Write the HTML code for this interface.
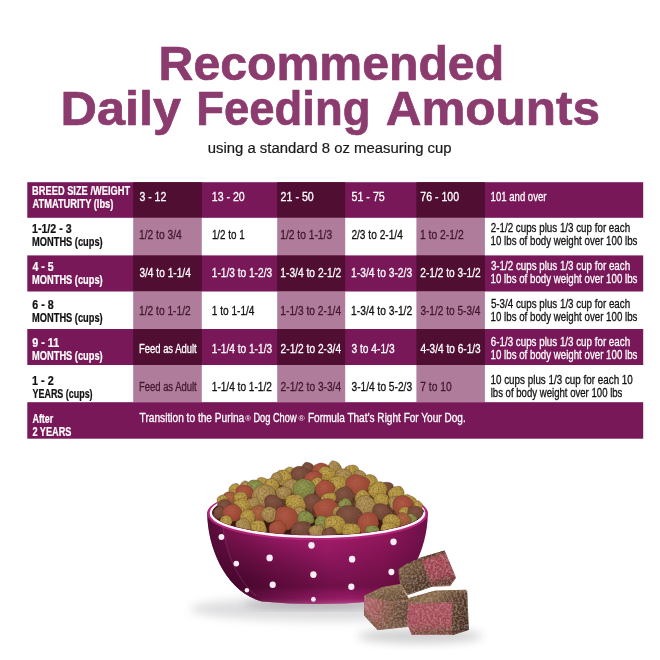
<!DOCTYPE html>
<html lang="en"><head><meta charset="utf-8"><title>Recommended Daily Feeding Amounts</title>
<style>html,body{margin:0;padding:0;background:#fff;}body{width:660px;height:660px;overflow:hidden;}svg{display:block;}text{font-family:"Liberation Sans",sans-serif;}</style>
</head><body>
<svg width="660" height="660" viewBox="0 0 660 660">
<rect width="660" height="660" fill="#ffffff"/>
<text x="158.6" y="80.0" font-size="48.4" fill="#8b3b6e" font-weight="700" textLength="345.5" lengthAdjust="spacingAndGlyphs" stroke="#8b3b6e" stroke-width="0.7">Recommended</text>
<text x="60.5" y="124.8" font-size="48.4" fill="#8b3b6e" font-weight="700" textLength="120.5" lengthAdjust="spacingAndGlyphs" stroke="#8b3b6e" stroke-width="0.7">Daily</text>
<text x="196.3" y="124.8" font-size="48.4" fill="#8b3b6e" font-weight="700" textLength="174.1" lengthAdjust="spacingAndGlyphs" stroke="#8b3b6e" stroke-width="0.7">Feeding</text>
<text x="385.7" y="124.8" font-size="48.4" fill="#8b3b6e" font-weight="700" textLength="214.2" lengthAdjust="spacingAndGlyphs" stroke="#8b3b6e" stroke-width="0.7">Amounts</text>
<text x="207.8" y="153.2" font-size="14" fill="#1a1a1a" textLength="243.8" lengthAdjust="spacingAndGlyphs" stroke="#1a1a1a" stroke-width="0.2">using a standard 8 oz measuring cup</text>
<rect x="27.3" y="182.2" width="615.9" height="35.6" fill="#781858"/>
<rect x="133.2" y="182.2" width="68.6" height="35.6" fill="#500e33"/>
<rect x="277.2" y="182.2" width="68.0" height="35.6" fill="#500e33"/>
<rect x="416.4" y="182.2" width="68.5" height="35.6" fill="#500e33"/>
<rect x="133.2" y="217.8" width="68.6" height="37.6" fill="#b07c9b"/>
<rect x="277.2" y="217.8" width="68.0" height="37.6" fill="#b07c9b"/>
<rect x="416.4" y="217.8" width="68.5" height="37.6" fill="#b07c9b"/>
<rect x="27.3" y="255.4" width="615.9" height="36.1" fill="#781858"/>
<rect x="133.2" y="255.4" width="68.6" height="36.1" fill="#500e33"/>
<rect x="277.2" y="255.4" width="68.0" height="36.1" fill="#500e33"/>
<rect x="416.4" y="255.4" width="68.5" height="36.1" fill="#500e33"/>
<rect x="133.2" y="291.5" width="68.6" height="37.5" fill="#b07c9b"/>
<rect x="277.2" y="291.5" width="68.0" height="37.5" fill="#b07c9b"/>
<rect x="416.4" y="291.5" width="68.5" height="37.5" fill="#b07c9b"/>
<rect x="27.3" y="329.0" width="615.9" height="36.0" fill="#781858"/>
<rect x="133.2" y="329.0" width="68.6" height="36.0" fill="#500e33"/>
<rect x="277.2" y="329.0" width="68.0" height="36.0" fill="#500e33"/>
<rect x="416.4" y="329.0" width="68.5" height="36.0" fill="#500e33"/>
<rect x="133.2" y="365.0" width="68.6" height="37.2" fill="#b07c9b"/>
<rect x="277.2" y="365.0" width="68.0" height="37.2" fill="#b07c9b"/>
<rect x="416.4" y="365.0" width="68.5" height="37.2" fill="#b07c9b"/>
<rect x="27.3" y="402.2" width="615.9" height="36.5" fill="#781858"/>
<text x="32.1" y="194.8" font-size="11.9" fill="#fff" font-weight="700" textLength="98.0" lengthAdjust="spacingAndGlyphs" stroke="#fff" stroke-width="0.22">BREED SIZE /WEIGHT</text>
<text x="32.5" y="207.7" font-size="11.9" fill="#fff" font-weight="700" textLength="80.8" lengthAdjust="spacingAndGlyphs" stroke="#fff" stroke-width="0.22">ATMATURITY (lbs)</text>
<text x="32.0" y="232.9" font-size="11.9" fill="#111" font-weight="700" textLength="39.6" lengthAdjust="spacingAndGlyphs" stroke="#111" stroke-width="0.22">1-1/2 - 3</text>
<text x="32.1" y="245.8" font-size="11.9" fill="#111" font-weight="700" textLength="70.6" lengthAdjust="spacingAndGlyphs" stroke="#111" stroke-width="0.22">MONTHS (cups)</text>
<text x="32.5" y="270.9" font-size="11.9" fill="#fff" font-weight="700" textLength="21.1" lengthAdjust="spacingAndGlyphs" stroke="#fff" stroke-width="0.22">4 - 5</text>
<text x="32.1" y="283.8" font-size="11.9" fill="#fff" font-weight="700" textLength="70.6" lengthAdjust="spacingAndGlyphs" stroke="#fff" stroke-width="0.22">MONTHS (cups)</text>
<text x="32.3" y="308.9" font-size="11.9" fill="#111" font-weight="700" textLength="21.3" lengthAdjust="spacingAndGlyphs" stroke="#111" stroke-width="0.22">6 - 8</text>
<text x="32.1" y="321.8" font-size="11.9" fill="#111" font-weight="700" textLength="70.6" lengthAdjust="spacingAndGlyphs" stroke="#111" stroke-width="0.22">MONTHS (cups)</text>
<text x="32.3" y="347.0" font-size="11.9" fill="#fff" font-weight="700" textLength="26.8" lengthAdjust="spacingAndGlyphs" stroke="#fff" stroke-width="0.22">9 - 11</text>
<text x="32.1" y="359.9" font-size="11.9" fill="#fff" font-weight="700" textLength="70.6" lengthAdjust="spacingAndGlyphs" stroke="#fff" stroke-width="0.22">MONTHS (cups)</text>
<text x="32.0" y="385.1" font-size="11.9" fill="#111" font-weight="700" textLength="21.7" lengthAdjust="spacingAndGlyphs" stroke="#111" stroke-width="0.22">1 - 2</text>
<text x="32.5" y="397.9" font-size="11.9" fill="#111" font-weight="700" textLength="60.1" lengthAdjust="spacingAndGlyphs" stroke="#111" stroke-width="0.22">YEARS (cups)</text>
<text x="32.5" y="423.1" font-size="11.9" fill="#fff" font-weight="700" textLength="20.7" lengthAdjust="spacingAndGlyphs" stroke="#fff" stroke-width="0.22">After</text>
<text x="32.4" y="436.0" font-size="11.9" fill="#fff" font-weight="700" textLength="39.0" lengthAdjust="spacingAndGlyphs" stroke="#fff" stroke-width="0.22">2 YEARS</text>
<text x="139.4" y="200.8" font-size="12.3" fill="#fff" textLength="26.9" lengthAdjust="spacingAndGlyphs" stroke="#fff" stroke-width="0.3">3 - 12</text>
<text x="211.8" y="200.8" font-size="12.3" fill="#fff" textLength="32.9" lengthAdjust="spacingAndGlyphs" stroke="#fff" stroke-width="0.3">13 - 20</text>
<text x="280.6" y="200.8" font-size="12.3" fill="#fff" textLength="33.2" lengthAdjust="spacingAndGlyphs" stroke="#fff" stroke-width="0.3">21 - 50</text>
<text x="351.5" y="200.8" font-size="12.3" fill="#fff" textLength="33.3" lengthAdjust="spacingAndGlyphs" stroke="#fff" stroke-width="0.3">51 - 75</text>
<text x="420.3" y="200.8" font-size="12.3" fill="#fff" textLength="38.7" lengthAdjust="spacingAndGlyphs" stroke="#fff" stroke-width="0.3">76 - 100</text>
<text x="490.6" y="200.8" font-size="12.3" fill="#fff" textLength="55.9" lengthAdjust="spacingAndGlyphs" stroke="#fff" stroke-width="0.3">101 and over</text>
<text x="139.0" y="238.9" font-size="12.3" fill="#42182f" textLength="42.8" lengthAdjust="spacingAndGlyphs" stroke="#42182f" stroke-width="0.3">1/2 to 3/4</text>
<text x="211.9" y="238.9" font-size="12.3" fill="#111" textLength="32.8" lengthAdjust="spacingAndGlyphs" stroke="#111" stroke-width="0.3">1/2 to 1</text>
<text x="280.3" y="238.9" font-size="12.3" fill="#42182f" textLength="51.8" lengthAdjust="spacingAndGlyphs" stroke="#42182f" stroke-width="0.3">1/2 to 1-1/3</text>
<text x="351.4" y="238.9" font-size="12.3" fill="#111" textLength="51.4" lengthAdjust="spacingAndGlyphs" stroke="#111" stroke-width="0.3">2/3 to 2-1/4</text>
<text x="420.0" y="238.9" font-size="12.3" fill="#42182f" textLength="43.7" lengthAdjust="spacingAndGlyphs" stroke="#42182f" stroke-width="0.3">1 to 2-1/2</text>
<text x="490.8" y="231.7" font-size="12.3" fill="#111" textLength="139.3" lengthAdjust="spacingAndGlyphs" stroke="#111" stroke-width="0.3">2-1/2 cups plus 1/3 cup for each</text>
<text x="490.6" y="244.5" font-size="12.3" fill="#111" textLength="146.8" lengthAdjust="spacingAndGlyphs" stroke="#111" stroke-width="0.3">10 lbs of body weight over 100 lbs</text>
<text x="139.4" y="276.9" font-size="12.3" fill="#fff" textLength="51.4" lengthAdjust="spacingAndGlyphs" stroke="#fff" stroke-width="0.3">3/4 to 1-1/4</text>
<text x="211.8" y="276.9" font-size="12.3" fill="#fff" textLength="60.3" lengthAdjust="spacingAndGlyphs" stroke="#fff" stroke-width="0.3">1-1/3 to 1-2/3</text>
<text x="280.3" y="276.9" font-size="12.3" fill="#fff" textLength="61.0" lengthAdjust="spacingAndGlyphs" stroke="#fff" stroke-width="0.3">1-3/4 to 2-1/2</text>
<text x="351.1" y="276.9" font-size="12.3" fill="#fff" textLength="61.0" lengthAdjust="spacingAndGlyphs" stroke="#fff" stroke-width="0.3">1-3/4 to 3-2/3</text>
<text x="420.3" y="276.9" font-size="12.3" fill="#fff" textLength="60.4" lengthAdjust="spacingAndGlyphs" stroke="#fff" stroke-width="0.3">2-1/2 to 3-1/2</text>
<text x="490.9" y="269.8" font-size="12.3" fill="#fff" textLength="139.2" lengthAdjust="spacingAndGlyphs" stroke="#fff" stroke-width="0.3">3-1/2 cups plus 1/3 cup for each</text>
<text x="490.6" y="282.6" font-size="12.3" fill="#fff" textLength="146.8" lengthAdjust="spacingAndGlyphs" stroke="#fff" stroke-width="0.3">10 lbs of body weight over 100 lbs</text>
<text x="139.0" y="314.9" font-size="12.3" fill="#42182f" textLength="51.7" lengthAdjust="spacingAndGlyphs" stroke="#42182f" stroke-width="0.3">1/2 to 1-1/2</text>
<text x="211.8" y="314.9" font-size="12.3" fill="#111" textLength="42.7" lengthAdjust="spacingAndGlyphs" stroke="#111" stroke-width="0.3">1 to 1-1/4</text>
<text x="280.3" y="314.9" font-size="12.3" fill="#42182f" textLength="60.8" lengthAdjust="spacingAndGlyphs" stroke="#42182f" stroke-width="0.3">1-1/3 to 2-1/4</text>
<text x="351.1" y="314.9" font-size="12.3" fill="#111" textLength="61.1" lengthAdjust="spacingAndGlyphs" stroke="#111" stroke-width="0.3">1-3/4 to 3-1/2</text>
<text x="420.4" y="314.9" font-size="12.3" fill="#42182f" textLength="60.1" lengthAdjust="spacingAndGlyphs" stroke="#42182f" stroke-width="0.3">3-1/2 to 5-3/4</text>
<text x="490.9" y="307.8" font-size="12.3" fill="#111" textLength="139.2" lengthAdjust="spacingAndGlyphs" stroke="#111" stroke-width="0.3">5-3/4 cups plus 1/3 cup for each</text>
<text x="490.6" y="320.6" font-size="12.3" fill="#111" textLength="146.8" lengthAdjust="spacingAndGlyphs" stroke="#111" stroke-width="0.3">10 lbs of body weight over 100 lbs</text>
<text x="139.0" y="353.0" font-size="12.3" fill="#fff" textLength="57.7" lengthAdjust="spacingAndGlyphs" stroke="#fff" stroke-width="0.3">Feed as Adult</text>
<text x="211.8" y="353.0" font-size="12.3" fill="#fff" textLength="60.3" lengthAdjust="spacingAndGlyphs" stroke="#fff" stroke-width="0.3">1-1/4 to 1-1/3</text>
<text x="280.6" y="353.0" font-size="12.3" fill="#fff" textLength="60.5" lengthAdjust="spacingAndGlyphs" stroke="#fff" stroke-width="0.3">2-1/2 to 2-3/4</text>
<text x="351.5" y="353.0" font-size="12.3" fill="#fff" textLength="43.1" lengthAdjust="spacingAndGlyphs" stroke="#fff" stroke-width="0.3">3 to 4-1/3</text>
<text x="420.6" y="353.0" font-size="12.3" fill="#fff" textLength="60.1" lengthAdjust="spacingAndGlyphs" stroke="#fff" stroke-width="0.3">4-3/4 to 6-1/3</text>
<text x="490.8" y="345.8" font-size="12.3" fill="#fff" textLength="139.3" lengthAdjust="spacingAndGlyphs" stroke="#fff" stroke-width="0.3">6-1/3 cups plus 1/3 cup for each</text>
<text x="490.6" y="358.6" font-size="12.3" fill="#fff" textLength="146.8" lengthAdjust="spacingAndGlyphs" stroke="#fff" stroke-width="0.3">10 lbs of body weight over 100 lbs</text>
<text x="139.0" y="391.1" font-size="12.3" fill="#42182f" textLength="57.7" lengthAdjust="spacingAndGlyphs" stroke="#42182f" stroke-width="0.3">Feed as Adult</text>
<text x="211.8" y="391.1" font-size="12.3" fill="#111" textLength="60.0" lengthAdjust="spacingAndGlyphs" stroke="#111" stroke-width="0.3">1-1/4 to 1-1/2</text>
<text x="280.6" y="391.1" font-size="12.3" fill="#42182f" textLength="60.5" lengthAdjust="spacingAndGlyphs" stroke="#42182f" stroke-width="0.3">2-1/2 to 3-3/4</text>
<text x="351.5" y="391.1" font-size="12.3" fill="#111" textLength="60.6" lengthAdjust="spacingAndGlyphs" stroke="#111" stroke-width="0.3">3-1/4 to 5-2/3</text>
<text x="420.3" y="391.1" font-size="12.3" fill="#42182f" textLength="31.4" lengthAdjust="spacingAndGlyphs" stroke="#42182f" stroke-width="0.3">7 to 10</text>
<text x="490.5" y="383.9" font-size="12.3" fill="#111" textLength="142.3" lengthAdjust="spacingAndGlyphs" stroke="#111" stroke-width="0.3">10 cups plus 1/3 cup for each 10</text>
<text x="490.7" y="396.7" font-size="12.3" fill="#111" textLength="131.7" lengthAdjust="spacingAndGlyphs" stroke="#111" stroke-width="0.3">lbs of body weight over 100 lbs</text>
<text x="139.6" y="421.7" font-size="12.3" fill="#fff" textLength="104.6" lengthAdjust="spacingAndGlyphs" stroke="#fff" stroke-width="0.3">Transition to the Purina</text>
<text x="245.1" y="420.8" font-size="8.0" fill="#fff" textLength="6.1" lengthAdjust="spacingAndGlyphs" stroke="#fff" stroke-width="0">®</text>
<text x="253.4" y="421.7" font-size="12.3" fill="#fff" textLength="43.2" lengthAdjust="spacingAndGlyphs" stroke="#fff" stroke-width="0.3">Dog Chow</text>
<text x="298.5" y="420.8" font-size="8.0" fill="#fff" textLength="6.2" lengthAdjust="spacingAndGlyphs" stroke="#fff" stroke-width="0">®</text>
<text x="307.9" y="421.7" font-size="12.3" fill="#fff" textLength="157.8" lengthAdjust="spacingAndGlyphs" stroke="#fff" stroke-width="0.3">Formula That’s Right For Your Dog.</text>
<defs>
<radialGradient id="kr" cx="0.42" cy="0.36" r="0.85"><stop offset="0" stop-color="#b85a46"/><stop offset="0.65" stop-color="#a04232"/><stop offset="1" stop-color="#5a221e"/></radialGradient>
<radialGradient id="ky" cx="0.42" cy="0.36" r="0.85"><stop offset="0" stop-color="#c4a850"/><stop offset="0.65" stop-color="#ad9038"/><stop offset="1" stop-color="#62491c"/></radialGradient>
<radialGradient id="kt" cx="0.42" cy="0.36" r="0.85"><stop offset="0" stop-color="#ba9d5e"/><stop offset="0.65" stop-color="#9e8246"/><stop offset="1" stop-color="#564224"/></radialGradient>
<radialGradient id="kg" cx="0.42" cy="0.36" r="0.85"><stop offset="0" stop-color="#93a054"/><stop offset="0.65" stop-color="#78863f"/><stop offset="1" stop-color="#3e481e"/></radialGradient>
<radialGradient id="kb" cx="0.42" cy="0.36" r="0.85"><stop offset="0" stop-color="#875646"/><stop offset="0.65" stop-color="#683c32"/><stop offset="1" stop-color="#341a15"/></radialGradient>
<radialGradient id="ko" cx="0.42" cy="0.36" r="0.85"><stop offset="0" stop-color="#b66a45"/><stop offset="0.65" stop-color="#9c5234"/><stop offset="1" stop-color="#562a18"/></radialGradient>
<linearGradient id="bh" x1="0" x2="1" y1="0" y2="0"><stop offset="0" stop-color="#5a0e3d"/><stop offset="0.08" stop-color="#7a134f"/><stop offset="0.3" stop-color="#9d1a67"/><stop offset="0.55" stop-color="#a81d6f"/><stop offset="0.8" stop-color="#96185f"/><stop offset="1" stop-color="#70104a"/></linearGradient>
<linearGradient id="bv" x1="0" x2="0" y1="0" y2="1"><stop offset="0" stop-color="#30001f" stop-opacity="0"/><stop offset="0.45" stop-color="#30001f" stop-opacity="0.08"/><stop offset="0.85" stop-color="#30001f" stop-opacity="0.42"/><stop offset="0.95" stop-color="#7a1a58" stop-opacity="0.3"/><stop offset="1" stop-color="#c884ae" stop-opacity="0.45"/></linearGradient>
<radialGradient id="bl" cx="0.1" cy="0.9" r="0.55"><stop offset="0" stop-color="#2a0018" stop-opacity="0.55"/><stop offset="1" stop-color="#2a0018" stop-opacity="0"/></radialGradient>
<filter id="blur6" x="-20%" y="-50%" width="140%" height="200%"><feGaussianBlur stdDeviation="5"/></filter>
<filter id="grain" x="0" y="0" width="100%" height="100%"><feTurbulence type="fractalNoise" baseFrequency="0.55" numOctaves="2" seed="4" result="n"/><feColorMatrix in="n" type="matrix" values="0 0 0 0 0.2  0 0 0 0 0.1  0 0 0 0 0.05  0 0 0 -1.7 1.05" result="d"/><feComposite in="d" in2="SourceAlpha" operator="in" result="dd"/><feMerge><feMergeNode in="SourceGraphic"/><feMergeNode in="dd"/></feMerge></filter>
<filter id="blur1"><feGaussianBlur stdDeviation="0.5"/></filter>
<clipPath id="kclip"><rect x="190" y="440" width="260" height="72.5"/><ellipse cx="317.5" cy="512.5" rx="105.3" ry="22.7"/></clipPath>
</defs>
<ellipse cx="325" cy="609" rx="135" ry="12" fill="#9a9aa0" opacity="0.33" filter="url(#blur6)"/>
<ellipse cx="315" cy="604" rx="72" ry="4" fill="#5a4a54" opacity="0.4" filter="url(#blur6)"/>
<path d="M207.2,513 C207.5,548 226,592 262,601.5 Q317,606.5 373,601.5 C409,592 427.5,548 427.8,514 A110.3,26 0 0 0 207.2,513 Z" fill="url(#bh)"/>
<path d="M207.2,513 C207.5,548 226,592 262,601.5 Q317,606.5 373,601.5 C409,592 427.5,548 427.8,514 A110.3,26 0 0 0 207.2,513 Z" fill="url(#bv)"/>
<path d="M207.2,513 C207.5,548 226,592 262,601.5 Q317,606.5 373,601.5 C409,592 427.5,548 427.8,514 A110.3,26 0 0 0 207.2,513 Z" fill="url(#bl)"/>
<path d="M207.2,513 C207.5,548 226,592 262,601.5 C240,585 226,555 222,520 Z" fill="#4a0830" opacity="0.35"/>
<path d="M222,522 C226,555 238,580 256,596" fill="none" stroke="#d070a8" stroke-width="1.2" opacity="0.2"/>
<ellipse cx="317.5" cy="513.4" rx="109.0" ry="25.4" fill="none" stroke="#b3257a" stroke-width="2.6"/>
<ellipse cx="317.5" cy="513.0" rx="106.6" ry="23.8" fill="none" stroke="#f8f1f5" stroke-width="2.6"/>
<ellipse cx="317.5" cy="512.5" rx="105.3" ry="22.7" fill="#3a1a14"/>
<g clip-path="url(#kclip)"><g filter="url(#grain)">
<path d="M217,516 C224,501 241,492 263,483 C285,472 300,468 320,468 C343,468 360,476 384,486 C404,494 417,505 421,518 Z" fill="#553420"/>
<path d="M314.1,469.1C314.0,470.3 313.6,472.0 312.6,472.8C311.6,473.5 309.5,473.9 308.1,473.8C306.7,473.6 305.3,472.7 304.1,471.9C303.0,471.1 301.4,469.9 301.2,468.8C300.9,467.7 301.9,466.3 302.6,465.2C303.4,464.1 304.3,462.8 305.5,462.4C306.8,462.1 308.7,462.6 310.0,463.1C311.3,463.6 312.6,464.5 313.3,465.5C314.0,466.5 314.2,467.9 314.1,469.1Z" fill="url(#kb)" stroke="#2e140e" stroke-opacity="0.45" stroke-width="0.5"/>
<path d="M340.4,465.4C341.1,466.7 341.8,468.5 341.5,470.1C341.3,471.7 340.1,474.0 338.8,474.9C337.4,475.9 334.9,476.1 333.2,475.9C331.6,475.7 330.0,474.8 328.7,473.7C327.4,472.6 325.5,471.0 325.5,469.6C325.5,468.1 327.5,466.5 328.6,465.1C329.6,463.6 330.5,461.4 332.0,460.9C333.4,460.5 335.7,461.4 337.1,462.2C338.5,462.9 339.7,464.1 340.4,465.4Z" fill="url(#kt)" stroke="#2e140e" stroke-opacity="0.45" stroke-width="0.5"/>
<path d="M329.5,467.4C329.8,468.8 328.3,470.9 327.3,472.4C326.4,473.9 325.3,475.6 323.7,476.4C322.1,477.2 319.4,477.4 317.7,477.0C316.0,476.5 314.5,475.0 313.5,473.6C312.6,472.3 311.7,470.3 312.0,468.9C312.4,467.4 314.1,465.8 315.5,464.8C316.9,463.9 318.7,463.1 320.3,462.9C322.0,462.8 323.8,463.1 325.4,463.9C326.9,464.6 329.2,466.0 329.5,467.4Z" fill="url(#kr)" stroke="#2e140e" stroke-opacity="0.45" stroke-width="0.5"/>
<path d="M358.9,470.2C359.1,471.7 358.7,473.6 357.8,474.8C356.9,476.1 355.3,477.1 353.7,477.8C352.1,478.5 349.9,479.3 348.2,479.1C346.6,478.8 344.7,477.4 343.9,476.1C343.2,474.8 343.4,472.9 343.8,471.4C344.1,469.9 344.6,468.1 345.8,467.1C346.9,466.1 349.1,465.4 350.9,465.2C352.7,465.0 355.1,465.1 356.4,465.9C357.8,466.7 358.7,468.7 358.9,470.2Z" fill="url(#ky)" stroke="#2e140e" stroke-opacity="0.45" stroke-width="0.5"/>
<path d="M295.1,476.3C294.4,477.3 293.5,478.3 292.3,478.7C291.1,479.1 289.1,479.2 287.9,478.6C286.6,478.0 285.7,476.2 285.0,475.0C284.3,473.8 283.5,472.2 283.7,471.2C283.9,470.1 285.2,469.3 286.2,468.6C287.3,467.8 288.5,466.8 289.8,466.9C291.1,466.9 293.1,467.8 294.2,468.8C295.3,469.8 296.3,471.5 296.4,472.8C296.5,474.1 295.8,475.3 295.1,476.3Z" fill="url(#ky)" stroke="#2e140e" stroke-opacity="0.45" stroke-width="0.5"/>
<path d="M335.7,475.7C335.3,477.2 334.0,478.9 332.6,479.7C331.1,480.6 328.8,480.8 326.8,480.7C324.9,480.6 322.4,480.1 320.8,479.0C319.3,477.9 317.7,475.7 317.5,474.1C317.3,472.5 318.5,470.7 319.6,469.4C320.7,468.1 322.4,466.5 324.1,466.3C325.8,466.0 327.9,467.2 329.7,467.9C331.6,468.6 334.0,469.3 335.0,470.6C336.0,471.9 336.1,474.1 335.7,475.7Z" fill="url(#ky)" stroke="#2e140e" stroke-opacity="0.45" stroke-width="0.5"/>
<path d="M308.5,477.9C307.6,479.7 306.3,481.5 304.6,482.4C302.8,483.4 300.0,484.3 298.1,483.7C296.3,483.2 294.8,480.9 293.5,479.2C292.2,477.6 290.5,475.7 290.5,473.9C290.5,472.2 292.0,470.0 293.3,468.8C294.7,467.5 296.8,466.5 298.6,466.3C300.4,466.2 302.5,466.9 304.3,467.8C306.2,468.7 309.0,470.1 309.7,471.8C310.4,473.5 309.3,476.2 308.5,477.9Z" fill="url(#kb)" stroke="#2e140e" stroke-opacity="0.45" stroke-width="0.5"/>
<path d="M352.2,474.4C352.3,475.8 350.6,477.5 349.5,478.8C348.4,480.1 347.4,481.5 345.8,482.1C344.3,482.7 342.1,482.6 340.4,482.1C338.7,481.7 336.7,480.6 335.8,479.2C334.9,477.8 334.8,475.6 335.2,474.0C335.7,472.3 337.0,470.3 338.4,469.4C339.9,468.6 342.3,468.7 344.0,468.9C345.8,469.0 347.6,469.4 348.9,470.3C350.3,471.3 352.1,473.0 352.2,474.4Z" fill="url(#kt)" stroke="#2e140e" stroke-opacity="0.45" stroke-width="0.5"/>
<path d="M365.0,479.1C364.3,480.1 363.1,481.0 362.0,481.4C360.8,481.8 359.2,481.8 358.0,481.3C356.8,480.8 355.6,479.7 354.9,478.6C354.2,477.5 353.6,475.9 353.8,474.6C353.9,473.3 354.8,471.7 355.8,471.0C356.9,470.2 358.7,470.0 360.0,470.2C361.3,470.4 362.5,471.2 363.6,472.0C364.6,472.9 365.9,474.1 366.1,475.2C366.4,476.4 365.7,478.0 365.0,479.1Z" fill="url(#kt)" stroke="#2e140e" stroke-opacity="0.45" stroke-width="0.5"/>
<path d="M291.0,482.6C290.0,484.0 288.2,485.1 286.5,485.5C284.9,486.0 282.6,486.0 281.0,485.4C279.3,484.7 277.2,483.2 276.5,481.7C275.7,480.3 276.4,478.3 276.6,476.6C276.8,474.9 276.6,472.5 277.8,471.4C278.9,470.3 281.5,469.9 283.4,470.0C285.3,470.2 287.6,471.0 289.1,472.2C290.5,473.4 291.7,475.6 292.0,477.3C292.4,479.1 291.9,481.3 291.0,482.6Z" fill="url(#ky)" stroke="#2e140e" stroke-opacity="0.45" stroke-width="0.5"/>
<path d="M321.9,474.3C322.6,475.8 321.7,478.5 321.0,480.3C320.3,482.1 319.1,483.9 317.6,485.1C316.0,486.3 313.7,487.3 311.8,487.3C309.9,487.4 307.7,486.5 306.3,485.3C304.9,484.2 303.5,482.3 303.4,480.6C303.3,478.9 304.5,476.5 305.7,475.1C306.9,473.6 308.8,472.3 310.6,471.6C312.4,471.0 314.7,470.8 316.5,471.3C318.4,471.7 321.1,472.8 321.9,474.3Z" fill="url(#kr)" stroke="#2e140e" stroke-opacity="0.45" stroke-width="0.5"/>
<path d="M281.7,475.3C282.4,476.5 282.5,478.3 282.1,479.5C281.8,480.7 280.6,481.9 279.5,482.7C278.5,483.5 277.2,484.3 276.0,484.4C274.8,484.6 273.2,484.2 272.3,483.6C271.3,482.9 270.4,481.6 270.2,480.5C270.1,479.3 270.7,478.0 271.3,476.8C271.8,475.6 272.6,474.0 273.7,473.3C274.9,472.6 277.0,472.3 278.3,472.7C279.7,473.0 281.1,474.2 281.7,475.3Z" fill="url(#kt)" stroke="#2e140e" stroke-opacity="0.45" stroke-width="0.5"/>
<path d="M376.5,478.3C377.3,479.5 377.9,481.4 377.5,482.9C377.2,484.3 375.8,485.9 374.4,487.1C373.0,488.3 370.9,490.0 369.3,490.0C367.7,490.0 365.9,488.3 364.8,487.2C363.8,486.1 363.3,484.7 363.0,483.1C362.6,481.6 361.7,479.2 362.6,477.8C363.4,476.4 366.1,475.2 367.8,474.7C369.6,474.3 371.6,474.7 373.0,475.3C374.5,475.9 375.8,477.0 376.5,478.3Z" fill="url(#ky)" stroke="#2e140e" stroke-opacity="0.45" stroke-width="0.5"/>
<path d="M269.4,483.2C269.4,484.5 268.5,486.1 267.4,486.9C266.3,487.8 264.5,488.5 263.0,488.6C261.6,488.6 259.9,487.9 258.8,487.2C257.6,486.6 256.4,485.6 256.0,484.6C255.6,483.5 256.0,482.2 256.4,481.1C256.9,480.0 257.5,478.5 258.6,477.9C259.8,477.4 261.9,477.5 263.3,477.7C264.8,478.0 266.5,478.6 267.5,479.5C268.5,480.4 269.4,482.0 269.4,483.2Z" fill="url(#ky)" stroke="#2e140e" stroke-opacity="0.45" stroke-width="0.5"/>
<path d="M324.7,485.6C324.5,486.8 322.9,488.0 321.6,488.6C320.3,489.1 318.4,489.2 317.0,488.9C315.5,488.6 313.8,487.6 312.9,486.5C311.9,485.5 311.2,483.7 311.3,482.5C311.4,481.3 312.5,480.2 313.4,479.3C314.3,478.5 315.5,477.5 316.8,477.4C318.0,477.2 319.8,477.8 320.9,478.5C322.0,479.2 322.5,480.5 323.1,481.7C323.8,482.9 325.0,484.5 324.7,485.6Z" fill="url(#ky)" stroke="#2e140e" stroke-opacity="0.45" stroke-width="0.5"/>
<path d="M347.4,481.5C348.2,483.3 348.4,486.5 347.4,488.3C346.4,490.1 343.6,491.4 341.5,492.5C339.3,493.5 336.7,494.8 334.4,494.5C332.2,494.2 329.4,492.6 328.1,490.9C326.7,489.2 325.8,486.2 326.2,484.2C326.6,482.1 328.8,479.9 330.5,478.6C332.2,477.2 334.5,476.3 336.5,476.1C338.5,475.8 340.8,476.3 342.6,477.2C344.5,478.2 346.6,479.6 347.4,481.5Z" fill="url(#ky)" stroke="#2e140e" stroke-opacity="0.45" stroke-width="0.5"/>
<path d="M279.1,486.7C278.9,488.2 277.8,490.0 276.5,490.9C275.2,491.8 273.0,492.0 271.3,492.0C269.6,491.9 267.7,491.6 266.3,490.7C265.0,489.8 263.4,488.1 263.2,486.7C263.0,485.4 264.3,483.9 265.1,482.6C265.9,481.3 266.6,479.8 268.0,479.1C269.4,478.5 271.9,478.2 273.5,478.7C275.1,479.2 276.8,480.6 277.7,482.0C278.7,483.3 279.3,485.2 279.1,486.7Z" fill="url(#ky)" stroke="#2e140e" stroke-opacity="0.45" stroke-width="0.5"/>
<path d="M369.5,480.5C370.4,482.4 369.0,485.7 368.0,488.1C367.1,490.5 365.8,493.3 363.6,494.9C361.4,496.5 357.3,497.8 354.7,497.5C352.2,497.2 349.7,494.8 348.2,492.9C346.7,491.1 345.8,488.9 345.6,486.5C345.4,484.1 345.5,480.7 347.2,478.7C348.8,476.7 352.7,474.9 355.3,474.6C357.9,474.2 360.6,475.6 363.0,476.6C365.3,477.6 368.7,478.6 369.5,480.5Z" fill="url(#kr)" stroke="#2e140e" stroke-opacity="0.45" stroke-width="0.5"/>
<path d="M251.4,488.9C251.0,489.7 249.3,490.0 248.1,490.4C247.0,490.8 245.7,491.4 244.5,491.2C243.3,490.9 241.6,489.8 240.9,488.8C240.2,487.7 240.1,486.1 240.3,485.0C240.5,483.9 241.4,482.9 242.2,482.2C243.1,481.5 244.4,480.8 245.5,480.8C246.6,480.9 248.0,481.8 248.8,482.5C249.7,483.3 250.2,484.3 250.7,485.3C251.1,486.4 251.8,488.0 251.4,488.9Z" fill="url(#kt)" stroke="#2e140e" stroke-opacity="0.45" stroke-width="0.5"/>
<path d="M263.6,486.7C263.5,488.2 261.8,489.8 260.5,491.0C259.2,492.2 257.6,493.7 255.8,494.0C254.0,494.3 251.3,493.7 249.8,492.8C248.4,491.9 247.7,489.8 247.3,488.4C246.9,486.9 246.8,485.2 247.4,483.9C248.0,482.6 249.4,481.2 250.8,480.6C252.3,479.9 254.3,479.8 256.0,480.1C257.7,480.3 259.8,480.9 261.1,482.0C262.3,483.1 263.7,485.2 263.6,486.7Z" fill="url(#kg)" stroke="#2e140e" stroke-opacity="0.45" stroke-width="0.5"/>
<path d="M299.1,482.6C299.7,484.0 298.9,486.3 298.3,487.9C297.7,489.5 296.7,491.2 295.3,492.2C293.9,493.2 291.8,493.9 290.0,494.0C288.2,494.0 285.7,493.6 284.6,492.5C283.5,491.4 283.3,489.1 283.2,487.4C283.1,485.7 283.0,483.4 284.0,482.0C285.0,480.7 287.4,479.8 289.2,479.4C291.0,478.9 293.0,479.0 294.6,479.5C296.3,480.0 298.5,481.2 299.1,482.6Z" fill="url(#kt)" stroke="#2e140e" stroke-opacity="0.45" stroke-width="0.5"/>
<path d="M393.5,487.7C393.5,489.0 392.7,490.2 391.8,491.3C391.0,492.5 389.8,494.4 388.3,494.8C386.9,495.1 384.7,494.1 383.2,493.4C381.7,492.8 380.1,492.0 379.3,490.9C378.6,489.7 378.1,487.8 378.5,486.5C379.0,485.2 380.6,483.7 382.1,483.0C383.5,482.2 385.6,482.1 387.3,482.2C388.9,482.3 391.0,482.8 392.1,483.7C393.1,484.6 393.5,486.4 393.5,487.7Z" fill="url(#kb)" stroke="#2e140e" stroke-opacity="0.45" stroke-width="0.5"/>
<path d="M314.8,484.7C315.7,486.7 315.3,489.7 314.6,491.8C313.9,494.0 312.4,496.1 310.5,497.7C308.7,499.3 305.8,501.3 303.5,501.3C301.1,501.4 298.3,499.6 296.6,498.0C294.9,496.4 293.5,494.0 293.2,491.7C292.9,489.4 293.4,486.4 294.7,484.2C296.1,482.1 298.9,479.6 301.3,478.9C303.7,478.3 306.9,479.3 309.2,480.2C311.4,481.2 313.9,482.8 314.8,484.7Z" fill="url(#kg)" stroke="#2e140e" stroke-opacity="0.45" stroke-width="0.5"/>
<path d="M243.0,490.1C243.0,491.3 242.0,492.8 241.0,493.7C240.0,494.7 238.5,495.5 237.1,495.7C235.7,495.9 234.0,495.5 232.6,494.9C231.3,494.3 229.5,493.3 229.0,492.1C228.5,490.9 228.9,489.1 229.5,487.8C230.0,486.6 231.1,485.2 232.4,484.5C233.8,483.8 236.0,483.3 237.4,483.7C238.8,484.0 239.9,485.5 240.8,486.6C241.8,487.7 242.9,488.9 243.0,490.1Z" fill="url(#ky)" stroke="#2e140e" stroke-opacity="0.45" stroke-width="0.5"/>
<path d="M333.0,493.7C331.9,495.4 330.5,496.9 328.8,497.8C327.0,498.8 324.3,499.6 322.4,499.2C320.6,498.7 318.7,496.6 317.4,494.9C316.2,493.3 315.0,491.1 315.1,489.2C315.2,487.4 316.5,485.5 317.8,484.0C319.2,482.4 321.0,480.4 323.0,480.0C325.1,479.6 328.2,480.3 330.2,481.5C332.2,482.7 334.6,485.2 335.1,487.2C335.5,489.3 334.0,491.9 333.0,493.7Z" fill="url(#kr)" stroke="#2e140e" stroke-opacity="0.45" stroke-width="0.5"/>
<path d="M386.3,492.6C385.9,494.6 385.9,497.1 384.6,498.5C383.2,499.8 380.1,501.0 378.1,500.7C376.1,500.5 374.4,498.4 372.7,497.0C371.1,495.6 368.5,494.2 368.2,492.4C367.8,490.7 369.4,488.2 370.6,486.6C371.7,485.0 373.3,483.6 375.2,482.8C377.0,482.0 379.8,481.3 381.8,481.9C383.7,482.5 386.0,484.7 386.8,486.5C387.5,488.3 386.7,490.6 386.3,492.6Z" fill="url(#ky)" stroke="#2e140e" stroke-opacity="0.45" stroke-width="0.5"/>
<path d="M253.2,492.9C253.2,494.5 252.1,496.5 250.8,497.7C249.6,499.0 247.7,500.1 245.9,500.5C244.0,500.9 241.0,501.1 239.5,500.2C238.1,499.3 237.6,496.8 237.0,495.0C236.3,493.3 235.3,491.2 235.9,489.7C236.4,488.1 238.5,486.2 240.1,485.6C241.8,484.9 244.2,485.2 246.0,485.6C247.9,486.0 250.1,486.5 251.3,487.7C252.5,488.9 253.3,491.2 253.2,492.9Z" fill="url(#kr)" stroke="#2e140e" stroke-opacity="0.45" stroke-width="0.5"/>
<path d="M290.7,488.6C291.5,489.7 291.4,492.2 291.0,493.8C290.5,495.5 289.5,497.8 288.1,498.8C286.7,499.7 284.3,499.4 282.6,499.3C280.9,499.3 279.1,499.2 278.1,498.4C277.0,497.5 276.7,495.9 276.3,494.5C276.0,493.0 275.4,490.9 276.2,489.6C277.0,488.4 279.4,487.4 281.0,486.9C282.6,486.4 284.1,486.6 285.7,486.9C287.4,487.1 289.8,487.4 290.7,488.6Z" fill="url(#kt)" stroke="#2e140e" stroke-opacity="0.45" stroke-width="0.5"/>
<path d="M403.6,496.5C402.9,497.9 401.5,499.0 400.0,500.0C398.5,500.9 396.4,502.3 394.7,502.1C393.0,501.8 391.1,499.9 389.9,498.4C388.8,496.9 387.6,494.8 387.8,493.2C387.9,491.6 389.6,489.9 390.9,488.8C392.1,487.7 393.6,487.1 395.2,486.7C396.9,486.3 399.3,485.9 400.8,486.7C402.3,487.5 403.5,489.7 404.0,491.4C404.4,493.0 404.2,495.1 403.6,496.5Z" fill="url(#ky)" stroke="#2e140e" stroke-opacity="0.45" stroke-width="0.5"/>
<path d="M275.6,497.5C274.9,499.8 272.1,501.3 270.2,503.1C268.2,504.8 265.9,507.7 263.8,507.7C261.6,507.7 259.3,504.8 257.3,503.2C255.2,501.5 252.1,499.9 251.5,497.8C250.9,495.6 252.5,492.1 253.9,490.1C255.3,488.0 257.5,486.4 259.8,485.5C262.0,484.6 264.9,484.2 267.3,484.8C269.8,485.4 273.0,487.1 274.3,489.2C275.7,491.3 276.3,495.1 275.6,497.5Z" fill="url(#kt)" stroke="#2e140e" stroke-opacity="0.45" stroke-width="0.5"/>
<path d="M354.7,496.7C354.6,498.6 353.3,500.7 351.9,502.1C350.4,503.4 348.0,504.6 346.0,504.9C343.9,505.1 341.3,504.4 339.4,503.4C337.6,502.4 335.7,500.8 334.9,499.0C334.1,497.3 334.0,494.8 334.8,493.0C335.6,491.3 337.5,489.6 339.5,488.5C341.6,487.5 344.7,486.2 346.9,486.6C349.0,487.0 351.3,489.3 352.6,491.0C353.9,492.6 354.9,494.9 354.7,496.7Z" fill="url(#kb)" stroke="#2e140e" stroke-opacity="0.45" stroke-width="0.5"/>
<path d="M369.9,496.0C370.2,497.3 370.1,499.2 369.3,500.3C368.5,501.5 366.7,502.3 365.0,503.0C363.4,503.6 361.1,504.7 359.5,504.4C357.9,504.1 356.1,502.4 355.3,501.1C354.6,499.8 354.9,498.0 355.2,496.5C355.6,495.0 356.3,493.3 357.5,492.2C358.8,491.0 361.2,489.5 362.9,489.5C364.6,489.5 366.4,491.2 367.6,492.3C368.8,493.4 369.6,494.6 369.9,496.0Z" fill="url(#ky)" stroke="#2e140e" stroke-opacity="0.45" stroke-width="0.5"/>
<path d="M238.7,498.9C238.7,500.4 237.2,502.1 236.0,503.2C234.8,504.3 233.1,505.3 231.4,505.6C229.7,506.0 227.5,505.8 225.8,505.1C224.2,504.5 222.0,503.0 221.5,501.6C221.0,500.3 222.1,498.3 222.7,496.8C223.4,495.3 224.1,493.5 225.6,492.7C227.0,491.9 229.6,491.7 231.4,492.0C233.2,492.3 235.1,493.3 236.4,494.5C237.6,495.6 238.8,497.5 238.7,498.9Z" fill="url(#ko)" stroke="#2e140e" stroke-opacity="0.45" stroke-width="0.5"/>
<path d="M246.9,495.5C247.5,496.7 247.6,498.1 247.4,499.6C247.2,501.1 246.9,503.3 245.8,504.3C244.6,505.2 242.2,505.5 240.7,505.5C239.1,505.4 237.5,504.9 236.4,504.1C235.4,503.3 234.8,501.9 234.5,500.5C234.1,499.1 233.5,497.1 234.2,495.7C234.9,494.3 237.0,492.7 238.6,492.1C240.2,491.5 242.6,491.5 244.0,492.0C245.4,492.6 246.4,494.2 246.9,495.5Z" fill="url(#ky)" stroke="#2e140e" stroke-opacity="0.45" stroke-width="0.5"/>
<path d="M336.2,497.2C336.4,498.6 335.8,500.1 335.0,501.4C334.3,502.7 333.2,504.2 331.8,504.8C330.4,505.4 328.5,505.3 326.9,505.0C325.2,504.8 323.0,504.5 321.9,503.4C320.9,502.3 320.4,500.0 320.7,498.5C321.0,497.0 322.6,495.3 323.9,494.4C325.2,493.4 327.0,493.1 328.7,492.9C330.4,492.6 332.9,492.1 334.1,492.8C335.4,493.6 336.1,495.7 336.2,497.2Z" fill="url(#ky)" stroke="#2e140e" stroke-opacity="0.45" stroke-width="0.5"/>
<path d="M226.7,496.8C227.3,497.7 227.7,499.1 227.5,500.2C227.3,501.3 226.6,502.8 225.7,503.6C224.8,504.4 223.3,504.7 222.1,504.9C220.9,505.0 219.3,505.1 218.5,504.5C217.7,504.0 217.4,502.5 217.2,501.4C217.0,500.3 216.9,499.0 217.4,498.1C217.9,497.2 219.1,496.3 220.2,495.8C221.3,495.2 222.7,494.7 223.8,494.9C224.8,495.1 226.0,495.9 226.7,496.8Z" fill="url(#ky)" stroke="#2e140e" stroke-opacity="0.45" stroke-width="0.5"/>
<path d="M388.9,498.3C389.3,499.7 389.5,501.6 388.8,502.9C388.1,504.2 386.3,505.5 384.7,506.2C383.1,506.9 380.8,507.4 379.2,507.1C377.6,506.7 375.8,505.4 374.9,504.1C374.0,502.9 373.4,501.0 373.7,499.4C373.9,497.9 374.8,495.7 376.1,494.7C377.4,493.7 379.9,493.4 381.6,493.4C383.3,493.4 385.2,493.8 386.4,494.6C387.6,495.4 388.5,496.9 388.9,498.3Z" fill="url(#ky)" stroke="#2e140e" stroke-opacity="0.45" stroke-width="0.5"/>
<path d="M416.6,503.1C416.1,504.2 414.4,504.9 413.0,505.6C411.7,506.3 410.3,507.6 408.7,507.5C407.1,507.5 404.7,506.4 403.5,505.4C402.2,504.3 401.5,502.5 401.4,501.1C401.2,499.7 401.4,498.0 402.3,496.9C403.2,495.8 405.0,494.7 406.5,494.5C408.1,494.4 410.0,495.5 411.6,496.2C413.1,496.9 414.8,497.7 415.7,498.8C416.5,500.0 417.0,502.0 416.6,503.1Z" fill="url(#ky)" stroke="#2e140e" stroke-opacity="0.45" stroke-width="0.5"/>
<path d="M322.4,505.5C321.7,507.3 319.5,508.9 317.6,509.9C315.7,510.8 313.1,511.8 311.0,511.4C308.9,511.0 306.6,509.1 305.2,507.5C303.8,505.8 302.7,503.3 302.8,501.4C302.9,499.5 304.5,497.4 305.9,496.2C307.3,495.0 309.4,494.3 311.2,494.1C313.0,493.9 315.2,494.1 316.9,495.0C318.6,495.9 320.3,497.5 321.2,499.2C322.1,501.0 323.0,503.7 322.4,505.5Z" fill="url(#kb)" stroke="#2e140e" stroke-opacity="0.45" stroke-width="0.5"/>
<path d="M402.0,503.5C401.9,504.9 401.1,506.7 400.0,507.7C399.0,508.8 397.2,509.8 395.8,509.9C394.3,510.0 392.3,509.3 391.2,508.5C390.2,507.6 389.8,506.0 389.3,504.6C388.8,503.2 387.9,501.4 388.3,500.1C388.7,498.8 390.4,497.3 391.8,496.7C393.2,496.1 395.2,496.2 396.6,496.6C398.1,497.0 399.6,497.9 400.5,499.1C401.4,500.2 402.1,502.0 402.0,503.5Z" fill="url(#kt)" stroke="#2e140e" stroke-opacity="0.45" stroke-width="0.5"/>
<path d="M282.3,506.1C281.8,507.6 280.2,508.9 278.7,509.7C277.2,510.5 275.1,511.1 273.1,511.0C271.1,510.9 268.0,510.3 266.7,509.0C265.3,507.8 265.1,505.4 264.8,503.6C264.6,501.8 264.1,499.6 265.1,498.2C266.0,496.7 268.4,495.0 270.5,494.8C272.5,494.5 275.5,495.7 277.4,496.7C279.3,497.7 281.1,499.4 281.9,500.9C282.7,502.5 282.9,504.7 282.3,506.1Z" fill="url(#kb)" stroke="#2e140e" stroke-opacity="0.45" stroke-width="0.5"/>
<path d="M305.9,507.1C305.5,509.0 303.4,511.5 301.5,512.4C299.6,513.3 296.6,512.7 294.4,512.2C292.2,511.7 290.0,510.7 288.5,509.3C287.0,507.9 285.9,505.7 285.6,503.6C285.3,501.5 285.2,498.4 286.5,496.9C287.7,495.4 290.9,494.8 293.2,494.4C295.5,494.1 298.5,493.9 300.3,495.0C302.1,496.0 303.1,498.7 304.0,500.7C304.9,502.7 306.4,505.1 305.9,507.1Z" fill="url(#ky)" stroke="#2e140e" stroke-opacity="0.45" stroke-width="0.5"/>
<path d="M260.8,506.2C260.6,507.7 259.3,509.6 257.9,510.4C256.5,511.3 254.3,511.3 252.6,511.2C250.9,511.1 248.8,510.7 247.6,509.7C246.3,508.7 245.3,506.8 245.0,505.3C244.8,503.8 245.1,501.8 246.0,500.7C246.9,499.5 248.7,498.9 250.4,498.4C252.0,497.8 254.3,496.8 255.7,497.3C257.2,497.8 258.2,500.1 259.0,501.5C259.8,503.0 261.0,504.7 260.8,506.2Z" fill="url(#kt)" stroke="#2e140e" stroke-opacity="0.45" stroke-width="0.5"/>
<path d="M248.6,501.1C249.5,502.4 250.4,504.3 250.3,506.0C250.1,507.7 248.9,510.2 247.5,511.3C246.1,512.5 243.6,512.9 241.8,512.9C240.1,512.9 238.2,512.3 237.0,511.4C235.8,510.5 235.1,509.0 234.6,507.5C234.1,505.9 233.3,503.5 234.1,502.1C234.9,500.8 237.5,499.9 239.3,499.2C241.0,498.6 243.0,497.7 244.6,498.0C246.1,498.3 247.6,499.7 248.6,501.1Z" fill="url(#ky)" stroke="#2e140e" stroke-opacity="0.45" stroke-width="0.5"/>
<path d="M351.2,509.0C350.6,510.3 349.6,512.2 348.3,512.7C346.9,513.2 344.7,512.6 343.1,511.9C341.5,511.3 339.5,510.3 338.7,509.0C337.8,507.6 337.6,505.3 338.0,503.8C338.4,502.4 339.9,501.3 341.1,500.3C342.3,499.3 343.9,497.8 345.4,497.8C346.9,497.8 349.0,499.3 350.1,500.4C351.1,501.6 351.5,503.4 351.7,504.8C351.9,506.2 351.8,507.6 351.2,509.0Z" fill="url(#kg)" stroke="#2e140e" stroke-opacity="0.45" stroke-width="0.5"/>
<path d="M422.8,505.7C422.8,506.6 422.3,507.8 421.6,508.5C421.0,509.3 420.1,510.1 419.1,510.4C418.1,510.6 416.9,510.4 415.8,510.0C414.8,509.6 413.3,508.9 413.0,508.1C412.6,507.2 413.5,505.9 413.8,504.8C414.2,503.8 414.3,502.5 415.1,501.8C415.9,501.2 417.6,500.7 418.6,500.9C419.7,501.1 420.6,502.3 421.3,503.1C422.0,503.9 422.7,504.8 422.8,505.7Z" fill="url(#ky)" stroke="#2e140e" stroke-opacity="0.45" stroke-width="0.5"/>
<path d="M232.3,510.0C231.8,511.2 230.3,512.6 228.8,513.1C227.4,513.6 225.4,513.4 223.6,513.0C221.8,512.5 219.3,511.7 218.2,510.4C217.2,509.0 217.1,506.5 217.4,504.9C217.7,503.4 218.8,501.9 220.0,500.9C221.2,500.0 223.1,499.2 224.7,499.3C226.3,499.3 228.4,500.2 229.7,501.2C231.0,502.3 231.8,504.0 232.2,505.4C232.7,506.9 232.9,508.7 232.3,510.0Z" fill="url(#kb)" stroke="#2e140e" stroke-opacity="0.45" stroke-width="0.5"/>
<path d="M413.7,503.5C414.0,505.6 412.4,508.4 411.3,510.3C410.1,512.2 408.5,513.9 406.6,514.8C404.8,515.8 401.9,516.5 400.0,516.0C398.0,515.5 396.2,513.4 395.0,511.6C393.8,509.9 393.0,507.8 392.9,505.6C392.9,503.4 393.3,500.2 394.8,498.6C396.2,496.9 399.5,495.7 401.9,495.5C404.2,495.4 407.1,496.3 409.1,497.6C411.1,498.9 413.3,501.4 413.7,503.5Z" fill="url(#kr)" stroke="#2e140e" stroke-opacity="0.45" stroke-width="0.5"/>
<path d="M376.5,512.3C375.6,514.3 373.0,516.8 370.8,517.3C368.6,517.8 365.7,516.2 363.3,515.2C360.9,514.3 357.6,513.6 356.2,511.7C354.9,509.9 355.0,506.5 355.4,504.1C355.8,501.7 356.6,498.8 358.4,497.3C360.2,495.8 363.6,494.9 366.0,495.2C368.5,495.5 371.3,497.2 373.0,498.9C374.7,500.5 375.6,502.9 376.1,505.1C376.7,507.4 377.3,510.2 376.5,512.3Z" fill="url(#kt)" stroke="#2e140e" stroke-opacity="0.45" stroke-width="0.5"/>
<path d="M339.0,508.6C339.1,510.7 337.8,513.1 336.2,515.0C334.5,516.8 332.0,519.0 329.2,519.7C326.4,520.5 321.7,520.5 319.3,519.3C317.0,518.1 315.9,515.0 314.9,512.7C313.9,510.4 312.6,507.7 313.4,505.7C314.2,503.7 317.4,501.9 319.9,500.7C322.4,499.5 325.7,498.3 328.4,498.6C331.1,498.8 334.2,500.5 336.0,502.2C337.8,503.9 339.0,506.4 339.0,508.6Z" fill="url(#kr)" stroke="#2e140e" stroke-opacity="0.45" stroke-width="0.5"/>
<path d="M343.9,508.8C344.3,509.8 343.8,511.5 343.2,512.5C342.6,513.5 341.5,514.3 340.4,514.9C339.3,515.6 337.9,516.6 336.7,516.5C335.4,516.5 333.7,515.8 333.0,514.9C332.3,514.0 332.2,512.4 332.5,511.2C332.7,510.1 333.4,509.0 334.2,508.2C335.0,507.4 336.2,506.7 337.3,506.5C338.4,506.3 339.6,506.6 340.7,507.0C341.8,507.4 343.5,507.9 343.9,508.8Z" fill="url(#kt)" stroke="#2e140e" stroke-opacity="0.45" stroke-width="0.5"/>
<path d="M410.7,510.1C411.1,511.2 411.3,512.6 410.8,513.8C410.4,515.0 409.2,516.5 408.0,517.2C406.7,517.8 404.6,518.1 403.3,517.8C401.9,517.5 400.7,516.5 399.9,515.5C399.2,514.6 398.7,513.3 398.8,512.1C398.9,510.9 399.5,509.4 400.5,508.5C401.4,507.6 403.1,507.0 404.4,506.8C405.8,506.6 407.4,506.8 408.5,507.4C409.5,508.0 410.3,509.1 410.7,510.1Z" fill="url(#ky)" stroke="#2e140e" stroke-opacity="0.45" stroke-width="0.5"/>
<path d="M304.7,515.0C304.1,516.0 303.2,517.2 302.1,517.6C301.0,518.0 299.2,517.9 297.9,517.4C296.6,516.9 294.9,515.8 294.3,514.7C293.8,513.5 294.2,511.8 294.5,510.6C294.8,509.4 295.4,508.2 296.3,507.6C297.2,506.9 298.7,506.6 299.9,506.7C301.2,506.7 302.7,507.2 303.7,508.0C304.7,508.9 305.7,510.3 305.8,511.5C306.0,512.7 305.3,514.0 304.7,515.0Z" fill="url(#kt)" stroke="#2e140e" stroke-opacity="0.45" stroke-width="0.5"/>
<path d="M422.0,515.8C421.1,517.1 420.1,518.0 418.7,518.7C417.3,519.4 415.3,520.4 413.6,520.1C411.9,519.8 409.5,518.3 408.5,516.9C407.5,515.5 407.4,513.2 407.6,511.6C407.7,509.9 408.3,507.9 409.5,507.0C410.7,506.2 412.9,506.3 414.6,506.3C416.3,506.3 418.2,506.3 419.7,507.1C421.3,507.9 423.6,509.6 424.0,511.1C424.4,512.5 422.8,514.5 422.0,515.8Z" fill="url(#kb)" stroke="#2e140e" stroke-opacity="0.45" stroke-width="0.5"/>
<path d="M389.1,517.4C388.0,518.7 386.3,519.8 384.6,520.2C383.0,520.6 380.8,520.4 379.1,519.7C377.3,519.1 375.1,517.9 374.0,516.3C372.9,514.7 372.3,512.2 372.5,510.3C372.7,508.4 373.7,505.9 375.3,504.8C376.8,503.7 379.6,503.4 381.7,503.7C383.8,503.9 386.2,505.1 387.8,506.5C389.3,507.8 391.0,510.2 391.3,512.0C391.5,513.8 390.2,516.0 389.1,517.4Z" fill="url(#kb)" stroke="#2e140e" stroke-opacity="0.45" stroke-width="0.5"/>
<path d="M224.9,509.3C225.5,510.4 225.0,512.1 224.8,513.5C224.5,514.9 224.4,516.8 223.4,517.7C222.4,518.7 220.3,519.2 218.9,519.2C217.5,519.2 216.0,518.5 215.0,517.7C214.1,516.8 213.5,515.6 213.4,514.4C213.2,513.2 213.4,511.8 213.9,510.6C214.5,509.4 215.6,508.0 216.9,507.4C218.1,506.7 220.1,506.6 221.4,506.9C222.7,507.2 224.4,508.2 224.9,509.3Z" fill="url(#kb)" stroke="#2e140e" stroke-opacity="0.45" stroke-width="0.5"/>
<path d="M242.2,513.9C242.1,515.8 240.7,518.0 239.2,519.3C237.7,520.6 235.4,521.4 233.2,521.7C231.1,522.0 228.0,522.2 226.3,521.3C224.7,520.3 224.0,517.8 223.4,516.0C222.8,514.2 222.2,512.2 222.8,510.5C223.4,508.8 225.1,507.0 227.0,505.9C228.9,504.8 231.9,503.6 234.1,504.0C236.2,504.3 238.7,506.3 240.1,508.0C241.4,509.6 242.3,512.0 242.2,513.9Z" fill="url(#kr)" stroke="#2e140e" stroke-opacity="0.45" stroke-width="0.5"/>
<path d="M267.9,510.7C268.7,512.4 269.7,514.9 269.0,516.6C268.3,518.4 265.5,520.4 263.4,521.2C261.4,522.1 258.6,522.1 256.6,521.6C254.7,521.1 253.2,519.8 252.0,518.5C250.7,517.2 249.3,515.6 249.2,513.8C249.2,512.1 250.2,509.5 251.7,508.1C253.2,506.7 256.0,505.7 258.1,505.4C260.2,505.2 262.6,505.7 264.2,506.6C265.9,507.5 267.1,509.0 267.9,510.7Z" fill="url(#ko)" stroke="#2e140e" stroke-opacity="0.45" stroke-width="0.5"/>
<path d="M277.1,512.1C277.6,513.6 278.0,515.5 277.5,517.0C276.9,518.6 275.4,520.2 273.8,521.2C272.2,522.1 269.7,523.0 268.1,522.6C266.4,522.3 265.0,520.5 263.8,519.2C262.6,517.9 261.0,516.2 260.9,514.6C260.9,512.9 262.1,510.5 263.4,509.2C264.7,507.9 267.1,506.9 268.9,506.7C270.7,506.6 272.8,507.3 274.2,508.2C275.6,509.1 276.5,510.6 277.1,512.1Z" fill="url(#kt)" stroke="#2e140e" stroke-opacity="0.45" stroke-width="0.5"/>
<path d="M361.9,520.1C361.0,522.1 359.1,523.8 356.8,524.9C354.6,526.0 351.1,527.4 348.6,526.8C346.0,526.2 343.5,523.4 341.4,521.3C339.3,519.1 336.3,516.4 336.1,514.1C335.9,511.8 338.4,508.9 340.3,507.5C342.3,506.0 345.4,505.4 348.0,505.4C350.7,505.3 353.8,506.0 356.1,507.3C358.5,508.5 361.2,510.9 362.2,513.0C363.2,515.1 362.8,518.1 361.9,520.1Z" fill="url(#kb)" stroke="#2e140e" stroke-opacity="0.45" stroke-width="0.5"/>
<path d="M254.8,514.8C255.4,516.4 255.1,518.2 254.7,520.0C254.3,521.7 253.8,524.5 252.4,525.4C251.0,526.3 248.1,525.8 246.3,525.4C244.6,525.0 242.9,524.3 241.8,523.3C240.8,522.2 240.0,520.5 239.9,519.0C239.7,517.4 239.9,515.4 240.8,513.9C241.7,512.4 243.5,510.4 245.3,509.8C247.1,509.2 250.0,509.4 251.6,510.2C253.1,511.0 254.3,513.2 254.8,514.8Z" fill="url(#ky)" stroke="#2e140e" stroke-opacity="0.45" stroke-width="0.5"/>
<path d="M297.1,524.3C295.8,526.3 293.3,527.7 290.8,528.7C288.3,529.8 284.8,531.4 282.1,530.7C279.5,530.0 276.2,526.7 275.1,524.3C273.9,521.8 275.0,518.7 275.4,516.0C275.8,513.4 275.8,509.9 277.5,508.3C279.3,506.7 283.2,506.3 285.9,506.5C288.6,506.7 291.8,507.8 293.9,509.5C295.9,511.2 297.6,514.1 298.2,516.5C298.7,519.0 298.3,522.3 297.1,524.3Z" fill="url(#kr)" stroke="#2e140e" stroke-opacity="0.45" stroke-width="0.5"/>
<path d="M313.4,516.9C314.0,518.4 314.8,520.8 313.9,522.1C313.1,523.5 310.3,524.0 308.5,524.9C306.6,525.7 304.3,527.3 302.7,527.0C301.1,526.8 299.8,524.5 298.9,523.2C298.0,521.8 297.4,520.3 297.4,518.7C297.5,517.1 298.0,514.9 299.2,513.6C300.5,512.4 303.2,511.2 305.0,511.1C306.9,511.0 309.1,511.9 310.5,512.9C311.9,513.9 312.9,515.3 313.4,516.9Z" fill="url(#kg)" stroke="#2e140e" stroke-opacity="0.45" stroke-width="0.5"/>
<path d="M417.2,518.1C417.3,519.0 416.1,520.5 415.4,521.4C414.6,522.4 413.8,523.3 412.7,523.8C411.6,524.2 409.7,524.8 408.7,524.4C407.7,524.0 407.2,522.3 406.7,521.3C406.2,520.2 405.5,519.2 405.6,518.1C405.7,517.0 406.3,515.4 407.3,514.6C408.2,513.9 410.0,513.3 411.2,513.4C412.4,513.6 413.3,514.7 414.3,515.5C415.3,516.3 417.0,517.1 417.2,518.1Z" fill="url(#kg)" stroke="#2e140e" stroke-opacity="0.45" stroke-width="0.5"/>
<path d="M410.0,523.5C409.3,524.9 408.4,526.6 406.9,527.2C405.5,527.8 402.9,527.9 401.3,527.2C399.8,526.6 398.4,524.6 397.6,523.1C396.8,521.7 396.5,520.1 396.5,518.6C396.5,517.0 396.5,514.7 397.6,513.7C398.7,512.7 401.3,512.5 403.0,512.7C404.7,512.9 406.4,514.0 407.8,515.1C409.2,516.1 411.0,517.6 411.4,519.0C411.8,520.4 410.8,522.2 410.0,523.5Z" fill="url(#ko)" stroke="#2e140e" stroke-opacity="0.45" stroke-width="0.5"/>
<path d="M231.1,518.0C231.9,519.1 232.5,520.7 232.2,522.0C232.0,523.3 230.7,524.8 229.6,525.8C228.5,526.9 226.8,528.2 225.6,528.2C224.3,528.3 223.0,526.9 222.1,526.1C221.1,525.3 220.2,524.6 219.9,523.5C219.6,522.4 219.7,520.9 220.2,519.6C220.7,518.4 221.8,516.7 223.1,516.0C224.4,515.3 226.5,515.1 227.8,515.4C229.1,515.7 230.4,516.9 231.1,518.0Z" fill="url(#ky)" stroke="#2e140e" stroke-opacity="0.45" stroke-width="0.5"/>
<path d="M400.6,521.1C400.9,522.7 400.8,525.3 399.7,526.5C398.6,527.8 395.8,528.0 393.8,528.5C391.8,528.9 389.4,529.8 387.7,529.2C385.9,528.7 384.1,526.8 383.3,525.3C382.4,523.7 382.1,521.4 382.6,519.8C383.2,518.1 384.8,516.2 386.5,515.2C388.2,514.3 390.8,513.8 392.7,514.1C394.6,514.3 396.5,515.5 397.8,516.6C399.1,517.8 400.2,519.4 400.6,521.1Z" fill="url(#ky)" stroke="#2e140e" stroke-opacity="0.45" stroke-width="0.5"/>
<path d="M328.6,525.1C327.9,526.5 327.1,527.7 325.8,528.6C324.5,529.5 322.3,530.6 320.7,530.3C319.1,530.0 317.3,528.2 316.3,526.9C315.3,525.6 314.7,523.9 314.7,522.5C314.7,521.1 315.3,519.6 316.2,518.4C317.1,517.2 318.5,515.7 320.0,515.4C321.5,515.1 323.6,516.0 325.3,516.8C327.0,517.6 329.6,518.8 330.1,520.1C330.7,521.5 329.4,523.7 328.6,525.1Z" fill="url(#kg)" stroke="#2e140e" stroke-opacity="0.45" stroke-width="0.5"/>
<path d="M378.4,520.7C378.8,522.9 378.6,525.2 377.7,527.2C376.8,529.3 375.2,531.9 373.1,533.1C371.0,534.4 367.3,535.2 364.9,534.7C362.5,534.2 359.9,532.0 358.7,530.1C357.4,528.2 357.1,525.5 357.3,523.2C357.5,521.0 358.5,518.3 360.1,516.5C361.8,514.7 364.7,513.0 367.2,512.6C369.8,512.2 373.5,512.7 375.3,514.1C377.2,515.4 378.0,518.5 378.4,520.7Z" fill="url(#kr)" stroke="#2e140e" stroke-opacity="0.45" stroke-width="0.5"/>
<path d="M345.3,526.5C345.1,528.6 344.8,531.9 343.2,533.1C341.5,534.4 337.9,534.1 335.5,533.9C333.0,533.7 330.0,533.3 328.3,532.0C326.5,530.6 325.5,527.9 325.0,525.7C324.5,523.6 324.2,520.5 325.4,518.8C326.6,517.1 329.8,516.2 332.1,515.7C334.3,515.3 337.0,515.2 339.0,515.9C341.1,516.6 343.4,518.5 344.4,520.2C345.5,522.0 345.5,524.3 345.3,526.5Z" fill="url(#ky)" stroke="#2e140e" stroke-opacity="0.45" stroke-width="0.5"/>
<path d="M251.2,527.1C251.1,528.7 250.2,530.5 249.1,531.8C247.9,533.1 246.0,535.0 244.3,535.1C242.7,535.3 240.3,533.9 239.0,532.7C237.7,531.6 237.0,529.9 236.4,528.2C235.9,526.5 235.2,524.3 235.8,522.8C236.4,521.3 238.4,519.9 240.1,519.1C241.8,518.3 244.4,517.4 246.0,518.0C247.5,518.5 248.6,520.9 249.5,522.5C250.3,524.0 251.2,525.6 251.2,527.1Z" fill="url(#kt)" stroke="#2e140e" stroke-opacity="0.45" stroke-width="0.5"/>
<path d="M266.6,531.9C266.0,533.2 263.3,533.8 261.6,534.4C259.9,535.0 258.1,535.7 256.6,535.3C255.1,534.9 253.4,533.5 252.4,532.2C251.4,530.9 250.8,529.3 250.7,527.6C250.5,525.9 250.3,523.2 251.3,522.0C252.4,520.8 255.1,520.4 257.0,520.3C259.0,520.1 261.6,520.1 263.0,521.1C264.5,522.1 265.1,524.5 265.7,526.3C266.3,528.1 267.3,530.5 266.6,531.9Z" fill="url(#ky)" stroke="#2e140e" stroke-opacity="0.45" stroke-width="0.5"/>
<path d="M396.5,525.7C397.1,527.1 397.1,529.6 396.2,530.9C395.3,532.2 392.8,532.9 391.1,533.6C389.4,534.3 387.5,535.3 385.9,535.1C384.3,535.0 382.2,533.9 381.4,532.7C380.5,531.5 380.6,529.6 380.8,528.2C381.1,526.7 381.7,524.9 382.8,523.9C384.0,522.9 386.1,522.3 387.7,522.1C389.3,521.9 391.1,522.1 392.5,522.7C394.0,523.3 395.9,524.4 396.5,525.7Z" fill="url(#ky)" stroke="#2e140e" stroke-opacity="0.45" stroke-width="0.5"/>
<path d="M285.7,530.5C285.2,532.2 283.9,533.7 282.5,534.8C281.1,535.9 279.3,537.0 277.4,537.1C275.5,537.3 272.6,536.9 271.2,535.7C269.8,534.5 269.2,532.0 269.0,530.2C268.7,528.4 268.8,526.2 269.7,524.8C270.6,523.3 272.5,522.3 274.3,521.5C276.2,520.8 278.8,519.9 280.6,520.4C282.5,521.0 284.5,523.2 285.3,524.9C286.2,526.5 286.1,528.9 285.7,530.5Z" fill="url(#kr)" stroke="#2e140e" stroke-opacity="0.45" stroke-width="0.5"/>
<path d="M311.2,528.7C311.3,530.8 311.0,533.4 309.7,534.8C308.4,536.3 305.6,537.1 303.5,537.5C301.5,538.0 299.3,538.0 297.3,537.5C295.3,537.0 292.5,536.0 291.5,534.4C290.5,532.9 290.8,530.1 291.4,528.2C292.1,526.4 293.7,524.5 295.4,523.4C297.1,522.3 299.4,521.7 301.6,521.6C303.9,521.4 307.2,521.4 308.8,522.6C310.4,523.8 311.0,526.7 311.2,528.7Z" fill="url(#kb)" stroke="#2e140e" stroke-opacity="0.45" stroke-width="0.5"/>
<path d="M323.7,529.7C323.9,531.3 324.2,533.3 323.5,534.7C322.7,536.1 320.8,537.8 319.2,538.3C317.5,538.7 315.3,537.9 313.8,537.3C312.3,536.6 311.2,535.5 310.3,534.2C309.5,533.0 308.3,531.2 308.6,529.8C308.8,528.5 310.7,527.0 312.0,526.2C313.4,525.4 314.9,525.2 316.5,525.0C318.2,524.8 320.7,524.3 321.9,525.1C323.1,525.9 323.4,528.1 323.7,529.7Z" fill="url(#kt)" stroke="#2e140e" stroke-opacity="0.45" stroke-width="0.5"/>
<path d="M360.7,529.9C360.8,531.7 359.5,534.1 358.3,535.5C357.0,536.8 355.0,537.8 353.2,538.2C351.5,538.6 349.6,538.2 347.9,537.6C346.1,537.1 343.9,536.2 343.0,534.8C342.0,533.4 341.7,530.9 342.1,529.1C342.5,527.2 343.7,524.6 345.3,523.7C346.8,522.8 349.5,523.5 351.5,523.6C353.6,523.8 355.8,523.7 357.3,524.8C358.8,525.8 360.5,528.1 360.7,529.9Z" fill="url(#ky)" stroke="#2e140e" stroke-opacity="0.45" stroke-width="0.5"/>
<path d="M378.7,528.3C379.4,529.4 379.6,531.1 379.3,532.5C379.0,533.9 378.0,536.0 376.8,536.7C375.5,537.4 373.4,536.9 371.8,536.8C370.3,536.6 368.7,536.5 367.6,535.7C366.5,534.8 365.4,533.3 365.3,531.8C365.1,530.4 365.6,528.1 366.6,527.1C367.6,526.0 369.9,525.6 371.4,525.3C372.9,525.1 374.4,525.2 375.6,525.7C376.9,526.2 378.1,527.1 378.7,528.3Z" fill="url(#kg)" stroke="#2e140e" stroke-opacity="0.45" stroke-width="0.5"/>
<path d="M336.7,533.9C336.9,535.3 337.4,537.6 336.5,538.7C335.6,539.8 333.2,540.1 331.4,540.4C329.6,540.7 327.4,541.2 326.0,540.5C324.5,539.9 323.4,538.0 322.7,536.5C322.1,535.0 321.6,533.0 322.3,531.7C322.9,530.4 325.0,529.6 326.5,528.8C328.0,527.9 329.8,526.7 331.3,526.8C332.7,527.0 334.4,528.7 335.3,529.9C336.2,531.0 336.5,532.4 336.7,533.9Z" fill="url(#kb)" stroke="#2e140e" stroke-opacity="0.45" stroke-width="0.5"/>
</g></g>
<ellipse cx="221.4" cy="537" rx="2.9" ry="3.04" fill="#f6eef3"/>
<ellipse cx="311.5" cy="545.3" rx="3.2" ry="3.36" fill="#f6eef3"/>
<ellipse cx="393.5" cy="541.8" rx="3.2" ry="3.36" fill="#f6eef3"/>
<ellipse cx="269.6" cy="557.9" rx="3.2" ry="3.36" fill="#f6eef3"/>
<ellipse cx="352.1" cy="559.2" rx="3.2" ry="3.36" fill="#f6eef3"/>
<ellipse cx="236.3" cy="563.6" rx="2.8" ry="2.94" fill="#f6eef3"/>
<ellipse cx="313.4" cy="574.6" rx="3.2" ry="3.36" fill="#f6eef3"/>
<ellipse cx="391.4" cy="572" rx="3.0" ry="3.15" fill="#f6eef3"/>
<ellipse cx="272.7" cy="584.8" rx="3.1" ry="3.26" fill="#f6eef3"/>
<ellipse cx="351.3" cy="586.7" rx="3.1" ry="3.26" fill="#f6eef3"/>
<ellipse cx="246.9" cy="590.2" rx="2.2" ry="2.31" fill="#f6eef3"/>
<ellipse cx="313.4" cy="599.2" rx="2.4" ry="2.52" fill="#f6eef3"/>
<defs>
<linearGradient id="m1" x1="0" y1="0" x2="0.8" y2="1"><stop offset="0" stop-color="#8a6a44"/><stop offset="0.45" stop-color="#684a30"/><stop offset="1" stop-color="#44291c"/></linearGradient>
<linearGradient id="m2" x1="0" y1="0" x2="0.25" y2="1"><stop offset="0" stop-color="#5e3a2c"/><stop offset="0.16" stop-color="#8a4446"/><stop offset="0.35" stop-color="#a44452"/><stop offset="0.75" stop-color="#9c3e4e"/><stop offset="0.92" stop-color="#7e3e3a"/><stop offset="1" stop-color="#5e382a"/></linearGradient>
<linearGradient id="m3" x1="0" y1="0" x2="0.5" y2="1"><stop offset="0" stop-color="#a08a6e"/><stop offset="0.4" stop-color="#846644"/><stop offset="1" stop-color="#664830"/></linearGradient>
<linearGradient id="m4" x1="0" y1="0" x2="1" y2="0.15"><stop offset="0" stop-color="#b4676f"/><stop offset="0.35" stop-color="#a05a58"/><stop offset="0.65" stop-color="#7c5640"/><stop offset="1" stop-color="#5e4230"/></linearGradient>
<linearGradient id="m5" x1="0" y1="0" x2="0.1" y2="1"><stop offset="0" stop-color="#8e4a4e"/><stop offset="0.12" stop-color="#a8505c"/><stop offset="0.7" stop-color="#a44856"/><stop offset="0.9" stop-color="#8c4c46"/><stop offset="1" stop-color="#74483a"/></linearGradient>
<linearGradient id="m6" x1="0" y1="0" x2="1" y2="1"><stop offset="0" stop-color="#66452c"/><stop offset="1" stop-color="#40271a"/></linearGradient>
<linearGradient id="m7" x1="0" y1="0" x2="1" y2="0.3"><stop offset="0" stop-color="#70502f"/><stop offset="0.5" stop-color="#8c6c48"/><stop offset="1" stop-color="#543822"/></linearGradient>
<filter id="mgrain" x="0" y="0" width="100%" height="100%"><feTurbulence type="fractalNoise" baseFrequency="0.45" numOctaves="2" seed="9" result="n"/><feColorMatrix in="n" type="matrix" values="0 0 0 0 1  0 0 0 0 0.85  0 0 0 0 0.8  0 0 0 -0.45 0.27" result="d0"/><feGaussianBlur in="d0" stdDeviation="0.5" result="d"/><feComposite in="d" in2="SourceAlpha" operator="in" result="dd"/><feMerge><feMergeNode in="SourceGraphic"/><feMergeNode in="dd"/></feMerge><feGaussianBlur stdDeviation="0.35"/></filter>
</defs>
<ellipse cx="420" cy="636" rx="62" ry="7" fill="#777" opacity="0.35" filter="url(#blur6)"/>
<g filter="url(#mgrain)" stroke-linejoin="round">
<polygon points="398.4,569.7 404.1,565.6 421.1,558.2 432.3,586.2 407.7,594.7 400.5,583.0" fill="url(#m1)" stroke="#6e4c32" stroke-width="1"/>
<polygon points="421.1,558.2 444.4,551.0 455.6,577.7 450.1,585.6 432.3,586.2" fill="url(#m2)" stroke="#8a4448" stroke-width="1"/>
<polygon points="403.5,565.2 421.1,557.2 444.6,550.4 445.0,552.5 421.7,560.1" fill="#5e3c2a"/>
<polygon points="364.4,596.2 381.8,587.7 400.5,584.3 409.4,600.4 392.4,602.1" fill="url(#m3)" stroke="#8e6e4a" stroke-width="1"/>
<polygon points="364.4,596.2 392.4,602.1 409.4,600.9 407.7,626.5 377.6,629.7 364.0,614.9" fill="url(#m4)" stroke="#8a6250" stroke-width="1"/>
<polygon points="364.0,614.9 377.6,629.7 407.7,626.5 407.9,620.2 378.6,623.3 364.0,609.6" fill="#7a5a44" opacity="0.55"/>
<polygon points="409.4,598.3 434.9,591.1 466.2,590.2 453.1,602.5 409.0,604.2" fill="url(#m7)" stroke="#7a5a3a" stroke-width="1"/>
<polygon points="408.5,603.8 453.1,602.5 452.2,634.4 411.9,634.4 407.3,623.3" fill="url(#m5)" stroke="#a0545a" stroke-width="1"/>
<polygon points="453.1,602.5 466.7,591.1 468.4,629.7 452.2,634.8" fill="url(#m6)" stroke="#5a3a26" stroke-width="1"/>
</g>
</svg></body></html>
